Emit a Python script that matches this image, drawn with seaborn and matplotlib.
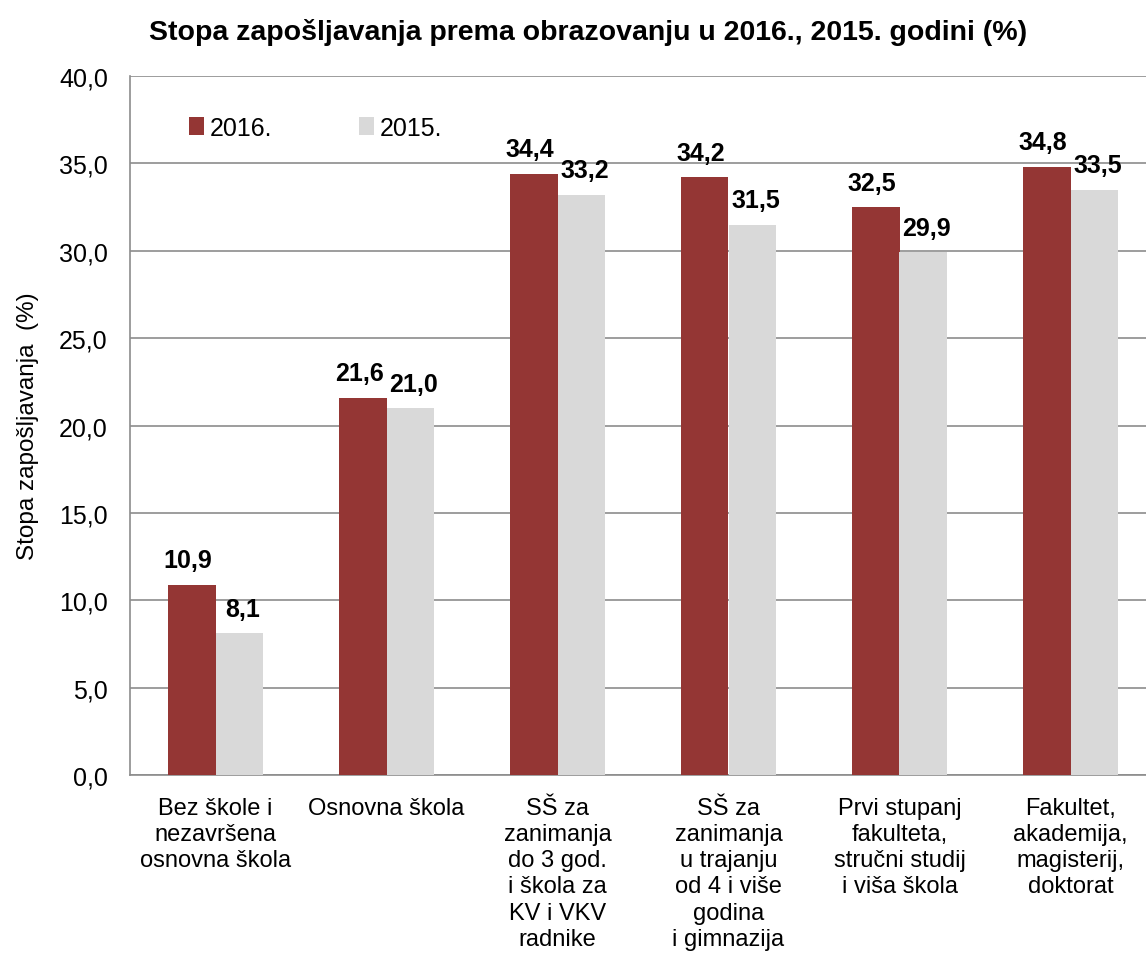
import numpy as np
import pandas as pd
import matplotlib
matplotlib.use('Agg')
import matplotlib.pyplot as plt
import seaborn as sns

# podaci
kategorije = ['Bez škole i\nnezavršena\nosnovna škola',
              'Osnovna škola',
              'SŠ za\nzanimanja\ndo 3 god.\ni škola za\nKV i VKV\nradnike',
              'SŠ za\nzanimanja\nu trajanju\nod 4 i više\ngodina\ni gimnazija',
              'Prvi stupanj\nfakulteta,\nstručni studij\ni viša škola',
              'Fakultet,\nakademija,\nmagisterij,\ndoktorat']
godine = ['2016.', '2015.']
vrijednosti_2016 = [10.9, 21.6, 34.4, 34.2, 32.5, 34.8]
vrijednosti_2015 = [8.1, 21.0, 33.2, 31.5, 29.9, 33.5]
y_ticks = [0, 5, 10, 15, 20, 25, 30, 35, 40]

df = pd.DataFrame({
    'kategorija': kategorije * 2,
    'godina': [godine[0]] * 6 + [godine[1]] * 6,
    'stopa': vrijednosti_2016 + vrijednosti_2015,
})

sns.set_style('white')
plt.rcParams['font.family'] = ['Liberation Sans', 'DejaVu Sans']
plt.rcParams['text.color'] = 'black'
plt.rcParams['axes.labelcolor'] = 'black'
plt.rcParams['xtick.color'] = 'black'
plt.rcParams['ytick.color'] = 'black'

fig = plt.figure(figsize=(11.46, 9.54), dpi=100)
ax = fig.add_axes([130 / 1146, 178 / 954, 1026 / 1146, 699 / 954])

boje = {'2016.': '#943634', '2015.': '#d9d9d9'}
sns.barplot(data=df, x='kategorija', y='stopa', hue='godina', palette=boje,
            width=0.56, gap=0, saturation=1, ax=ax, zorder=3, linewidth=0)

# oznake vrijednosti (malo razmaknute da se ne preklapaju)
for cont, dx in zip(ax.containers, [-2.5, 2.5]):
    labels = [f'{v:.1f}'.replace('.', ',') for v in cont.datavalues]
    anns = ax.bar_label(cont, labels=labels, padding=9, fontsize=18,
                        fontweight='bold', color='black')
    for a in anns:
        a.xyann = (dx, a.xyann[1])

ax.set_ylim(0, 40)
ax.set_xlim(-0.5, 5.5)
ax.set_yticks(y_ticks)
ax.set_yticklabels([f'{t:.1f}'.replace('.', ',') for t in y_ticks], fontsize=18)
ax.set_xticks(range(len(kategorije)))
ax.set_xticklabels(kategorije, fontsize=17, linespacing=1.24)
ax.tick_params(axis='x', length=0, pad=16)
ax.tick_params(axis='y', length=0, pad=16)
ax.yaxis.grid(True, color='#8c8c8c', linewidth=1.2, zorder=0)
ax.set_axisbelow(True)

for s in ['top', 'right']:
    ax.spines[s].set_visible(False)
for s in ['left', 'bottom']:
    ax.spines[s].set_color('#8c8c8c')
    ax.spines[s].set_linewidth(1.2)

ax.set_xlabel('')
ax.set_ylabel('Stopa zapošljavanja  (%)', fontsize=17.5, labelpad=14)

ax.legend(loc='upper left', bbox_to_anchor=(0.036, 0.975), ncol=2, frameon=False,
          fontsize=18, handlelength=0.6, handleheight=0.7, handletextpad=0.2,
          columnspacing=3.5)

fig.text(0.513, 0.966, 'Stopa zapošljavanja prema obrazovanju u 2016., 2015. godini (%)',
         ha='center', va='center', fontsize=20.5, fontweight='bold')

fig.savefig('out.png', dpi=100)
